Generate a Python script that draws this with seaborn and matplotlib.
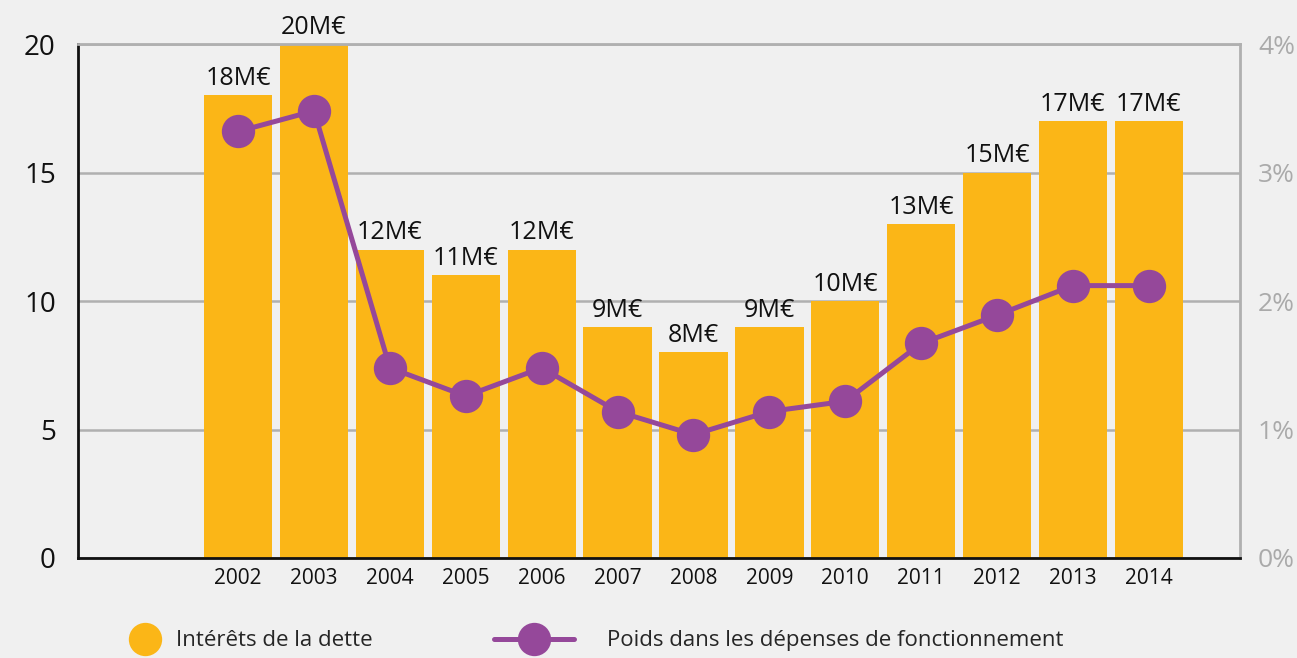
# Import libraries
import numpy as np
import matplotlib
matplotlib.use("Agg")
import matplotlib.pyplot as plt
import seaborn as sns
from matplotlib.lines import Line2D

# Data
years = ["2002", "2003", "2004", "2005", "2006", "2007", "2008",
         "2009", "2010", "2011", "2012", "2013", "2014"]
interets = [18, 20, 12, 11, 12, 9, 8, 9, 10, 13, 15, 17, 17]          # M€
poids = [3.32, 3.48, 1.48, 1.26, 1.48, 1.14, 0.96, 1.14, 1.22,
         1.67, 1.89, 2.12, 2.12]                                      # %
left_ticks = [0, 5, 10, 15, 20]
right_ticks = [0, 1, 2, 3, 4]

# Style
sns.set_style("white")
plt.rcParams["font.family"] = ["Open Sans", "DejaVu Sans"]
bg = "#f0f0f0"
orange = "#fbb617"
purple = "#95489a"
grey = "#b0b0b0"

fig = plt.figure(figsize=(12.97, 6.58), dpi=100, facecolor=bg)
ax = fig.add_axes([0.0601, 0.152, 0.8959, 0.781])
ax.set_facecolor(bg)

# Bars
sns.barplot(x=years, y=interets, color=orange, width=0.9, saturation=1,
            linewidth=0, edgecolor=orange, ax=ax, zorder=2)
ax.bar_label(ax.containers[0], labels=[f"{v}M€" for v in interets],
             padding=3, fontsize=18, color="#111111")

ax.set_ylim(0, 20)
ax.set_xlim(-2.11, 13.2)
ax.set_yticks(left_ticks)
ax.yaxis.grid(True, color=grey, linewidth=1.8, zorder=0)
ax.set_axisbelow(True)
ax.tick_params(axis="y", length=0, pad=16, labelsize=20, labelcolor="#111111")
ax.tick_params(axis="x", length=0, pad=7, labelsize=15, labelcolor="#111111")
ax.set_xlabel("")
ax.set_ylabel("")
for side in ["left", "bottom"]:
    ax.spines[side].set_color("#111111")
    ax.spines[side].set_linewidth(2)
for side in ["top", "right"]:
    ax.spines[side].set_color(grey)
    ax.spines[side].set_linewidth(2)

# Line on secondary axis
ax2 = ax.twinx()
sns.lineplot(x=np.arange(len(years)), y=poids, ax=ax2, color=purple,
             linewidth=3.6, marker="o", markersize=24, markeredgewidth=0, zorder=3)
ax2.set_ylim(0, 4)
ax2.set_xlim(-2.11, 13.2)
ax2.set_yticks(right_ticks)
ax2.set_yticklabels([f"{t}%" for t in right_ticks])
ax2.tick_params(axis="y", length=0, pad=13, labelsize=19, labelcolor="#aaaaaa")
ax2.set_ylabel("")
for s in ax2.spines.values():
    s.set_visible(False)

# Legend (two pieces, each with its own handle length)
h_bar = Line2D([], [], linestyle="none", marker="o", markersize=24, color=orange,
               markeredgewidth=0, label="Intérêts de la dette")
h_line = Line2D([], [], color=purple, linewidth=3.6, marker="o", markersize=24,
                markeredgewidth=0, label="Poids dans les dépenses de fonctionnement")
fig.legend(handles=[h_bar], loc="center left", bbox_to_anchor=(0.098, 0.026),
           frameon=False, fontsize=16, handlelength=1.6, handletextpad=0.6,
           borderpad=0, borderaxespad=0)
fig.legend(handles=[h_line], loc="center left", bbox_to_anchor=(0.381, 0.026),
           frameon=False, fontsize=16, handlelength=3.6, handletextpad=1.5,
           borderpad=0, borderaxespad=0)

fig.savefig("out.png", dpi=100, facecolor=bg)
